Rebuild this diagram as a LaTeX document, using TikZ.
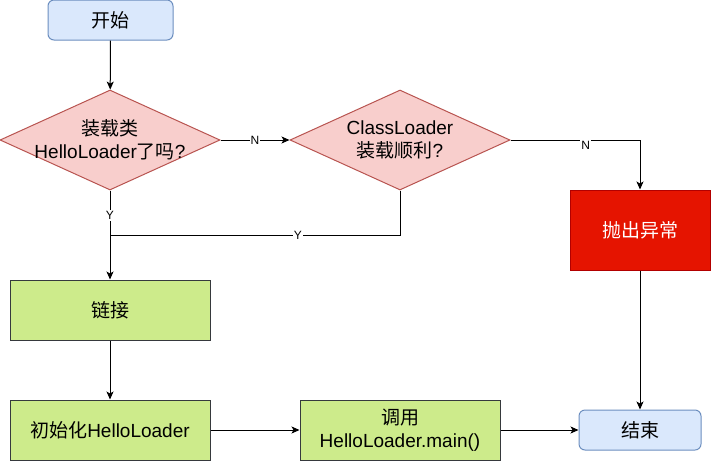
\documentclass[tikz,border=0pt]{standalone}
\usepackage{fontspec}
\setmainfont{Liberation Sans}
\newfontfamily\cjk{Noto Sans CJK SC}
\usetikzlibrary{shapes.geometric,arrows.meta}
\definecolor{bluefill}{HTML}{DAE8FC}
\definecolor{blueline}{HTML}{6C8EBF}
\definecolor{pinkfill}{HTML}{F8CECC}
\definecolor{pinkline}{HTML}{B85450}
\definecolor{greenfill}{HTML}{CDEB8B}
\definecolor{greenline}{HTML}{36393D}
\definecolor{redfill}{HTML}{E51400}
\definecolor{redline}{HTML}{B20000}
\newcommand{\mainfs}{\fontsize{19}{23}\selectfont}
\begin{document}
\begin{tikzpicture}[x=1pt,y=-1pt,
  terminal/.style={draw=blueline, fill=bluefill, rounded corners=6pt, minimum height=40pt, inner sep=0pt, font=\mainfs, line width=1pt},
  process/.style={draw=greenline, fill=greenfill, minimum width=200pt, minimum height=60pt, inner sep=0pt, font=\mainfs, align=center, line width=1pt},
  alarm/.style={draw=redline, fill=redfill, text=white, minimum width=140pt, minimum height=80pt, inner sep=0pt, font=\mainfs, line width=1pt},
  decision/.style={diamond, draw=pinkline, fill=pinkfill, minimum width=220pt, minimum height=100pt, inner sep=0pt, line width=1pt},
  dtext/.style={align=center, font=\mainfs},
  flow/.style={draw=black, line width=1pt, -{Stealth[length=8pt,width=7pt,inset=2pt]}},
  plain/.style={draw=black, line width=1pt},
  elabel/.style={font=\fontsize{12}{14}\selectfont, fill=white, inner sep=1pt}
]
\useasboundingbox (0,0) rectangle (711,461);

\node[terminal, minimum width=125pt] (start) at (110.5,20) {{\cjk 开始}};
\node[decision, label={[dtext]center:{{\cjk 装载类}\\HelloLoader{\cjk 了吗}?}}] (d1) at (110,140) {};
\node[decision, label={[dtext]center:{ClassLoader\\{\cjk 装载顺利}?}}] (d2) at (400,140) {};
\node[alarm] (throw) at (640,230) {{\cjk 抛出异常}};
\node[process] (link) at (110,310) {{\cjk 链接}};
\node[process] (init) at (110,430) {{\cjk 初始化}HelloLoader};
\node[process] (call) at (400,430) {{\cjk 调用}\\HelloLoader.main()};
\node[terminal, minimum width=122pt] (end) at (640,430) {{\cjk 结束}};
\coordinate (merge) at (110,235);

\draw[flow] (start) -- (d1);
\draw[flow] (d1) -- node[elabel]{N} (d2);
\draw[flow] (d2.east) -| node[elabel, pos=0.29, yshift=-5pt]{N} (throw.north);
\draw[flow] (d1) -- node[elabel, pos=0.28]{Y} (link);
\draw[plain] (d2.south) |- node[elabel, pos=0.676]{Y} (merge);
\draw[flow] (link) -- (init);
\draw[flow] (init) -- (call);
\draw[flow] (call) -- (end);
\draw[flow] (throw) -- (end);
\end{tikzpicture}
\end{document}
